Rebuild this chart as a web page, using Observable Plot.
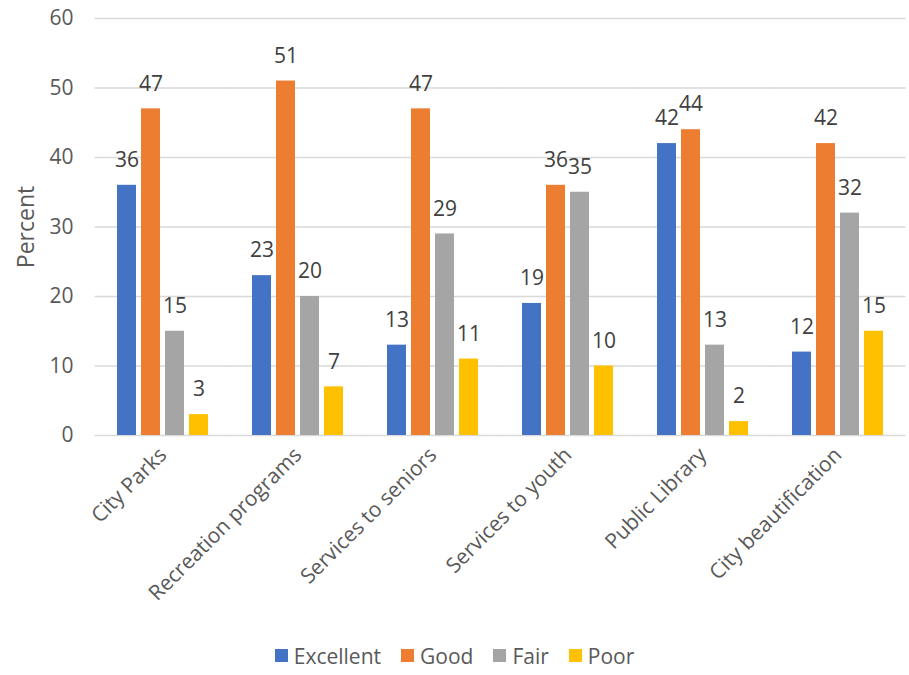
<!DOCTYPE html>
<html>
<head>
<meta charset="utf-8">
<script src="https://cdn.jsdelivr.net/npm/d3@7"></script>
<script src="https://cdn.jsdelivr.net/npm/@observablehq/plot@0.6"></script>
<style>
  html, body { margin: 0; padding: 0; background: #fff; }
  body { width: 909px; height: 675px; overflow: hidden; font-family: "Open Sans", sans-serif; }
  #legend { display: flex; justify-content: center; align-items: center; height: 45px; padding-top: 8px; gap: 20px; font-size: 21px; color: #595959; }
  #legend .item { display: flex; align-items: center; gap: 6px; }
  #legend .sw { width: 13px; height: 13px; display: inline-block; }
</style>
</head>
<body>
<div id="chart"></div>
<div id="legend"></div>
<script>
// Survey: rating of city services, percent of respondents
const categories = ["City Parks", "Recreation programs", "Services to seniors", "Services to youth", "Public Library", "City beautification"];
const ratings = ["Excellent", "Good", "Fair", "Poor"];
const excellent = [36, 23, 13, 19, 42, 12];
const good = [47, 51, 47, 36, 44, 42];
const fair = [15, 20, 29, 35, 13, 32];
const poor = [3, 7, 11, 10, 2, 15];
const colors = ["#4472C4", "#ED7D31", "#A5A5A5", "#FFC000"];
const yTicks = [0, 10, 20, 30, 40, 50, 60];

const seriesValues = [excellent, good, fair, poor];
const rows = [];
categories.forEach((c, i) => {
  ratings.forEach((r, j) => rows.push({category: c, rating: r, value: seriesValues[j][i]}));
});

// Layout
const W = 909, H = 625, mL = 95, mR = 4;
const groupPadInner = 0.31, groupPadOuter = groupPadInner / 2;
const groupStep = (W - mL - mR) / (categories.length - groupPadInner + 2 * groupPadOuter);
const halfGap = groupStep * groupPadInner / 2 + 0.5; // gridlines run across the gaps between groups
const firstGroupOffset = groupStep * groupPadOuter; // the y axis sits at the first group's left edge

const chart = Plot.plot({
  width: W,
  height: H,
  marginTop: 18,
  marginLeft: mL,
  marginRight: mR,
  marginBottom: H - 435,
  style: {fontFamily: "Open Sans, sans-serif", fontSize: "21px", color: "#595959"},
  fx: {domain: categories, paddingInner: groupPadInner, paddingOuter: groupPadOuter, label: null},
  x: {domain: ratings, paddingInner: 0.2, paddingOuter: 0, axis: null},
  y: {domain: [0, 60], axis: null},
  color: {domain: ratings, range: colors},
  marks: [
    Plot.ruleY(yTicks, {stroke: "#d9d9d9", strokeWidth: 1.3, insetLeft: -halfGap, insetRight: -halfGap}),
    Plot.axisY({ticks: yTicks, tickSize: 0, tickPadding: 22 + firstGroupOffset, label: null, fill: "#595959", fontSize: 21}),
    Plot.axisY({
      ticks: [], tickSize: 0,
      label: "Percent", labelAnchor: "center", labelArrow: "none", labelOffset: 78 + firstGroupOffset,
      fill: "#595959", fontSize: 23
    }),
    Plot.barY(rows, {fx: "category", x: "rating", y: "value", fill: "rating"}),
    Plot.text(rows, {fx: "category", x: "rating", y: "value", text: d => String(d.value), lineAnchor: "middle", dy: -25, fontSize: 21, fill: "#404040"}),
    Plot.axisFx({anchor: "bottom", tickRotate: -45, tickSize: 0, tickPadding: 16, label: null, fill: "#595959", fontSize: 21})
  ]
});
document.getElementById("chart").appendChild(chart);

const legend = document.getElementById("legend");
ratings.forEach((r, i) => {
  const item = document.createElement("span");
  item.className = "item";
  const sw = document.createElement("span");
  sw.className = "sw";
  sw.style.background = colors[i];
  item.appendChild(sw);
  item.appendChild(document.createTextNode(r));
  legend.appendChild(item);
});
</script>
</body>
</html>
